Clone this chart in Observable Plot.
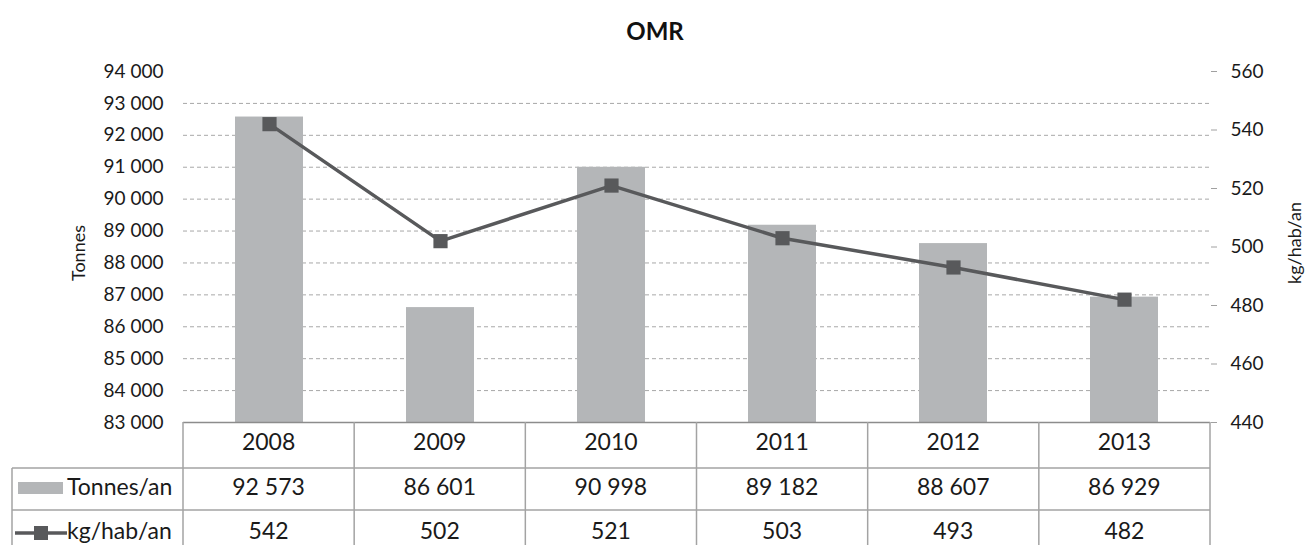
<!DOCTYPE html>
<html><head><meta charset="utf-8">
<script src="https://cdn.jsdelivr.net/npm/d3@7"></script>
<script src="https://cdn.jsdelivr.net/npm/@observablehq/plot@0.6"></script>
<style>body{margin:0;background:#fff;} svg{font-family:Lato,"Open Sans",sans-serif;}</style>
</head><body><div id="chart"></div>
<script>
const title = "OMR";
const years = ["2008","2009","2010","2011","2012","2013"];
const tonnes = [92573, 86601, 90998, 89182, 88607, 86929];
const kgHab = [542, 502, 521, 503, 493, 482];
const tonnesTicks = [83000,84000,85000,86000,87000,88000,89000,90000,91000,92000,93000,94000];
const gridTicks = [84000,85000,86000,87000,88000,89000,90000,91000,92000,93000];
const kgTicks = [440,460,480,500,520,540,560];
const seriesNames = ["Tonnes/an","kg/hab/an"];
const axisNames = ["Tonnes","kg/hab/an"];

const T_MIN = tonnesTicks[0], T_MAX = tonnesTicks[tonnesTicks.length-1];
const K_MIN = kgTicks[0], K_MAX = kgTicks[kgTicks.length-1];
const k2t = d3.scaleLinear([K_MIN, K_MAX], [T_MIN, T_MAX]);
const fmt = d3.formatLocale({decimal:",", thousands:" ", grouping:[3], currency:["","€"]}).format(",d");

const BAR = "#b4b6b8", LINE = "#58595b", BORDER = "#a3a3a3", INK = "#1a1a1a";
const data = years.map((year,i)=>({year, t: tonnes[i], k: kgHab[i], kt: k2t(kgHab[i])}));

const plot = Plot.plot({
  width:1306, height:545, marginTop:71, marginBottom:123, marginLeft:183, marginRight:96,
  style:{fontFamily:"Lato, 'Open Sans', sans-serif", fontSize:"19px", color:INK, background:"#fff"},
  x:{domain:years, paddingInner:0.6, paddingOuter:0.3, axis:null},
  y:{domain:[T_MIN,T_MAX], axis:null},
  marks:[
    Plot.ruleY(gridTicks, {stroke:"#a8a8a8", strokeDasharray:"4,3", strokeWidth:1}),
    Plot.barY(data, {x:"year", y1:T_MIN, y2:"t", fill:BAR}),
    Plot.ruleY([T_MIN], {stroke:"#8c8c8c", strokeWidth:1.5}),
    Plot.axisY(tonnesTicks, {anchor:"left", tickSize:0, tickPadding:20, tickFormat:fmt, label:null, fontSize:19}),
    Plot.axisY(kgTicks.map(k2t), {anchor:"right", tickSize:6, tickPadding:14, stroke:"#a0a0a0", tickFormat:d=>String(Math.round(k2t.invert(d))), label:null, fontSize:19}),
    Plot.line(data, {x:"year", y:"kt", stroke:LINE, strokeWidth:3.5}),
    Plot.dot(data, {x:"year", y:"kt", symbol:"square", r:8, fill:LINE, stroke:null})
  ]
});
document.getElementById("chart").append(plot);

const svg = d3.select(plot);
const xs = plot.scale("x"), ys = plot.scale("y");
const [r0, r1] = xs.range;
const colW = (r1 - r0) / years.length;
const yBase = ys.apply(T_MIN);
const yRow1 = yBase + 46, yRow2 = yRow1 + 42, yEnd = 545;

// axis titles
svg.append("text").attr("transform", `translate(80,253) rotate(-90)`).attr("text-anchor","middle").attr("dominant-baseline","middle").attr("font-size",18).attr("fill",INK).text(axisNames[0]);
svg.append("text").attr("transform", `translate(1296,243) rotate(-90)`).attr("text-anchor","middle").attr("dominant-baseline","middle").attr("font-size",18).attr("fill",INK).text(axisNames[1]);

const tbl = svg.append("g").attr("stroke", BORDER).attr("stroke-width", 1.5);
for (let i = 0; i <= years.length; i++) {
  const x = r0 + i*colW;
  tbl.append("line").attr("x1", x).attr("x2", x).attr("y1", yBase).attr("y2", yEnd);
}
tbl.append("line").attr("x1", 12).attr("x2", 12).attr("y1", yRow1).attr("y2", yEnd);
[yRow1, yRow2].forEach(y => tbl.append("line").attr("x1", 12).attr("x2", r1).attr("y1", y).attr("y2", y));

const txt = svg.append("g").attr("font-size", 23).attr("fill", INK).attr("text-anchor", "middle").attr("dominant-baseline", "middle");
years.forEach((yr, i) => {
  const cx = r0 + (i + 0.5)*colW;
  txt.append("text").attr("x", cx).attr("y", yBase + 22).text(yr);
  txt.append("text").attr("x", cx).attr("y", yRow1 + 21).text(fmt(tonnes[i]));
  txt.append("text").attr("x", cx).attr("y", yRow2 + 23).text(String(kgHab[i]));
});
// legend keys in table
const lg = svg.append("g").attr("font-size", 23).attr("fill", INK).attr("text-anchor", "start").attr("dominant-baseline", "middle");
lg.append("rect").attr("x", 18).attr("y", yRow1 + 14).attr("width", 45).attr("height", 12).attr("fill", BAR);
lg.append("text").attr("x", 67).attr("y", yRow1 + 21).text(seriesNames[0]);
lg.append("line").attr("x1", 15).attr("x2", 67).attr("y1", yRow2 + 23).attr("y2", yRow2 + 23).attr("stroke", LINE).attr("stroke-width", 3.5);
lg.append("rect").attr("x", 34).attr("y", yRow2 + 16).attr("width", 14).attr("height", 14).attr("fill", LINE);
lg.append("text").attr("x", 67).attr("y", yRow2 + 23).text(seriesNames[1]);
// title
svg.append("text").attr("x", 655).attr("y", 34).attr("text-anchor", "middle").attr("dominant-baseline", "middle").attr("font-size", 24).attr("font-weight", "bold").attr("fill", "#111").text(title);
</script>
</body></html>
